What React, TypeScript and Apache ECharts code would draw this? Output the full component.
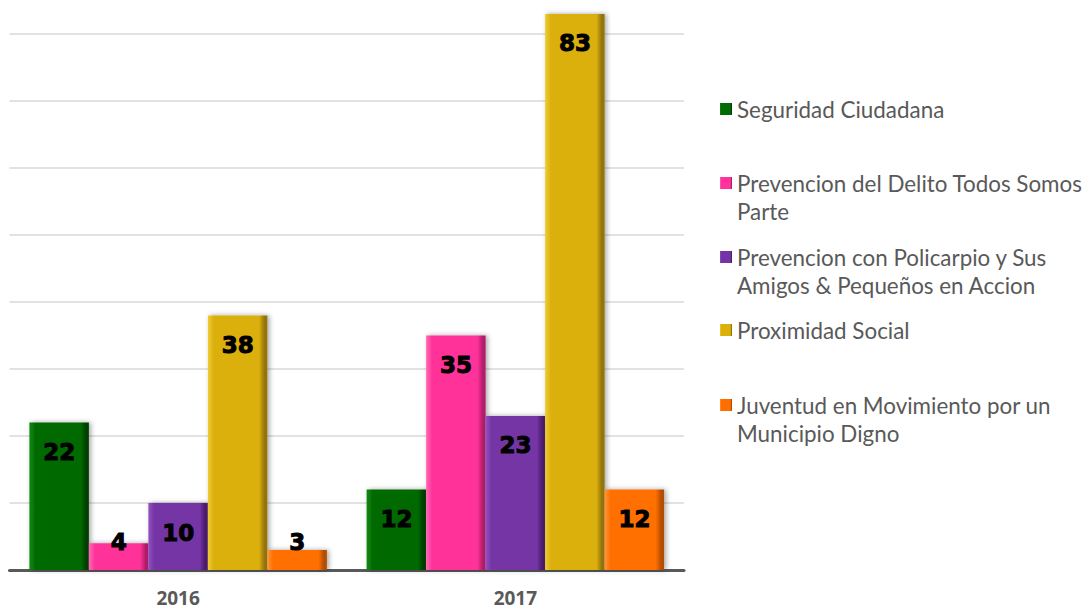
import React, { useEffect, useRef } from "react";
import * as echarts from "echarts";

const categories = ["2016", "2017"];
const seriesNames = [
  "Seguridad Ciudadana",
  "Prevencion del Delito Todos Somos Parte",
  "Prevencion con Policarpio y Sus Amigos & Pequeños en Accion",
  "Proximidad Social",
  "Juventud en Movimiento por un Municipio Digno",
];
const legendLabels = [
  "Seguridad Ciudadana",
  "Prevencion del Delito Todos Somos\nParte",
  "Prevencion con Policarpio y Sus\nAmigos & Pequeños en Accion",
  "Proximidad Social",
  "Juventud en Movimiento por un\nMunicipio Digno",
];
const seguridad = [22, 12];
const delito = [4, 35];
const policarpio = [10, 23];
const proximidad = [38, 83];
const juventud = [3, 12];
const values = [seguridad, delito, policarpio, proximidad, juventud];

const palette = [
  { base: "#046b04", light: "#0d8a0d", dark: "#023f02" },
  { base: "#ff3399", light: "#ff6ab8", dark: "#b31f6b" },
  { base: "#7434a5", light: "#9352c4", dark: "#4b1d6c" },
  { base: "#dbb008", light: "#f0cc35", dark: "#94750a" },
  { base: "#ff6f00", light: "#ff9638", dark: "#b34d00" },
];
const legendTops = [95, 169, 243, 316, 391];

export default function App() {
  const ref = useRef<HTMLDivElement>(null);
  useEffect(() => {
    if (!ref.current) return;
    const chart = echarts.init(ref.current, undefined, { renderer: "svg" });
    const series = seriesNames.map((name, i) => {
      const c = palette[i];
      const grad = new echarts.graphic.LinearGradient(0, 0, 1, 0, [
        { offset: 0, color: c.light },
        { offset: 0.1, color: c.base },
        { offset: 0.86, color: c.base },
        { offset: 0.95, color: c.dark },
        { offset: 1, color: c.dark },
      ]);
      return {
        name,
        type: "bar",
        clip: false,
        barWidth: 59.5,
        barGap: "0%",
        itemStyle: {
          color: grad,
          shadowColor: "rgba(0,0,0,0.35)",
          shadowBlur: 5,
          shadowOffsetX: 2,
          shadowOffsetY: 0,
        },
        data: values[i].map((v) => ({
          value: v,
          label:
            v < 8
              ? { position: "insideBottom", distance: 17 }
              : { position: "insideTop", distance: 18 },
        })),
        label: {
          show: true,
          color: "#000",
          fontFamily: "DejaVu Sans",
          fontWeight: "bold",
          fontSize: 23,
          textBorderColor: "#000",
          textBorderWidth: 1,
        },
      };
    });
    const legends = seriesNames.map((name, i) => {
      const twoLine = legendLabels[i].includes("\n");
      return {
        data: [
          {
            name,
            icon: twoLine
              ? "path://M0,8H12V20H0Z M0,0H0.01V0.01H0Z M0,56H0.01V55.99H0Z"
              : "rect",
          },
        ],
        left: 720,
        top: legendTops[i],
        padding: 0,
        itemWidth: 12,
        itemHeight: twoLine ? 56 : 12,
        selectedMode: false,
        formatter: () => legendLabels[i],
        textStyle: {
          fontFamily: "Lato",
          fontSize: 22.4,
          lineHeight: 28,
          color: "#595959",
        },
      };
    });
    chart.setOption({
      animation: false,
      grid: { left: 9.5, right: 401, top: 34, bottom: 39, containLabel: false },
      legend: legends,
      xAxis: {
        type: "category",
        data: categories,
        axisLine: { lineStyle: { color: "#595959", width: 3 } },
        axisTick: { show: false },
        axisLabel: {
          margin: 18,
          fontFamily: "Open Sans",
          fontWeight: "bold",
          fontSize: 19,
          color: "#595959",
        },
      },
      yAxis: {
        type: "value",
        min: 0,
        max: 80,
        interval: 10,
        axisLabel: { show: false },
        axisLine: { show: false },
        axisTick: { show: false },
        splitLine: { lineStyle: { color: "#d9d9d9", width: 1.5 } },
      },
      series,
    });
    return () => chart.dispose();
  }, []);
  return (
    <div
      ref={ref}
      style={{ position: "absolute", left: 0, top: 0, width: 1085, height: 609, background: "#fff" }}
    />
  );
}
